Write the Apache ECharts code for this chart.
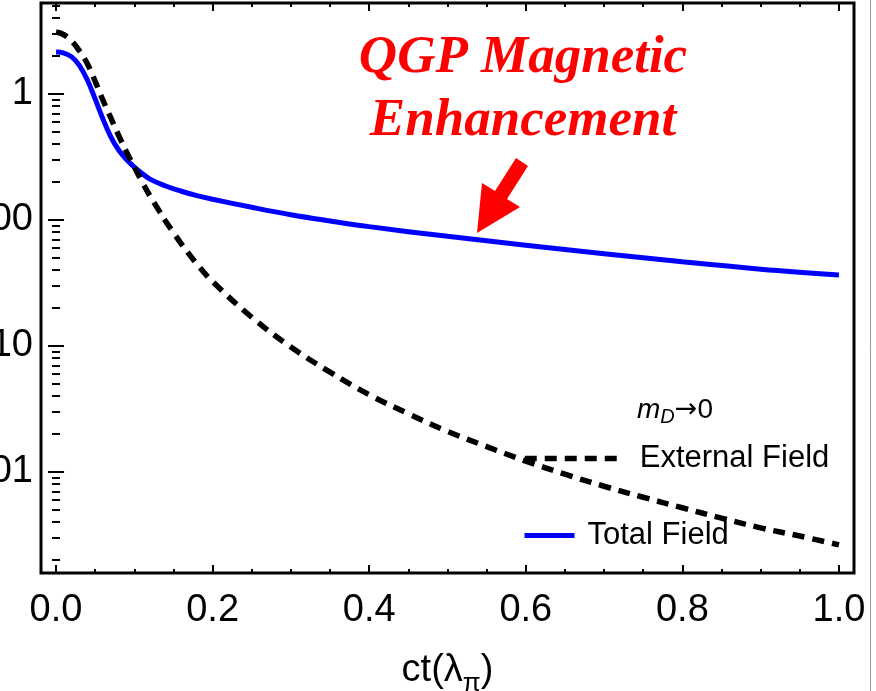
<!DOCTYPE html>
<html>
<head>
<meta charset="utf-8">
<script src="https://cdn.jsdelivr.net/npm/echarts@6/dist/echarts.min.js"></script>
<style>
html,body{margin:0;padding:0;background:#fff;}
#chart{width:876px;height:691px;}
</style>
</head>
<body>
<div id="chart"></div>
<script>
// ---- data ----
const totalX = [0, 0.01, 0.02, 0.03, 0.04, 0.05, 0.06, 0.07, 0.08, 0.09, 0.10, 0.11, 0.12, 0.14, 0.16, 0.18, 0.20, 0.25, 0.30, 0.35, 0.40, 0.50, 0.60, 0.70, 0.80, 0.90, 1.0];
const totalY = [2.15, 2.11, 1.97, 1.68, 1.29, 0.912, 0.631, 0.457, 0.359, 0.302, 0.263, 0.234, 0.211, 0.186, 0.169, 0.156, 0.146, 0.126, 0.110, 0.0982, 0.0885, 0.0741, 0.0631, 0.0540, 0.0465, 0.0407, 0.0366];

const extX = [0, 0.01, 0.02, 0.03, 0.04, 0.05, 0.06, 0.07, 0.08, 0.09, 0.10, 0.11, 0.12, 0.13, 0.14, 0.15, 0.16, 0.18, 0.20, 0.25, 0.30, 0.35, 0.40, 0.45, 0.50, 0.55, 0.60, 0.65, 0.70, 0.75, 0.80, 0.85, 0.90, 0.95, 1.0];
const extY = [3.1, 2.95, 2.63, 2.19, 1.74, 1.26, 0.89, 0.645, 0.468, 0.347, 0.263, 0.200, 0.155, 0.123, 0.0977, 0.0794, 0.0646, 0.0447, 0.0324, 0.0169, 0.0098, 0.0062, 0.0041, 0.0029, 0.0021, 0.00159, 0.00122, 0.00096, 0.00077, 0.00063, 0.00052, 0.00043, 0.00036, 0.00031, 0.000264];

const seriesNames = ['Total Field', 'External Field'];

const xMajorTicks = [0, 0.2, 0.4, 0.6, 0.8, 1.0];
const xTickLabels = ['0.0', '0.2', '0.4', '0.6', '0.8', '1.0'];
const xMinorTicks = [0.05, 0.1, 0.15, 0.25, 0.3, 0.35, 0.45, 0.5, 0.55, 0.65, 0.7, 0.75, 0.85, 0.9, 0.95];

const yMajorTicks = [0.001, 0.01, 0.1, 1];
const yTickLabels = ['0.001', '0.010', '0.100', '1'];
const yMinorTicks = [
  2e-4, 3e-4, 4e-4, 5e-4, 6e-4, 7e-4, 8e-4, 9e-4,
  2e-3, 3e-3, 4e-3, 5e-3, 6e-3, 7e-3, 8e-3, 9e-3,
  0.02, 0.03, 0.04, 0.05, 0.06, 0.07, 0.08, 0.09,
  0.2, 0.3, 0.4, 0.5, 0.6, 0.7, 0.8, 0.9,
  2, 3, 4, 5
];

const xMin = -0.0192, xMax = 1.0192;
const yMin = 1.578e-4, yMax = 5.27;

// ---- chart ----
const FONT = '"Liberation Sans", Arial, sans-serif';
const chart = echarts.init(document.getElementById('chart'), null, {renderer: 'canvas'});

function xLabel(v) {
  const i = xMajorTicks.findIndex(t => Math.abs(t - v) < 1e-9);
  return i >= 0 ? xTickLabels[i] : '';
}
function yLabel(v) {
  const i = yMajorTicks.findIndex(t => Math.abs(Math.log10(t) - Math.log10(v)) < 1e-6);
  return i >= 0 ? yTickLabels[i] : '';
}

const tickLine = {color: '#000', width: 2};

function xAxisDef(pos, ticks, len, withLabel) {
  const a = {
    type: 'value', position: pos, min: xMin, max: xMax,
    axisLine: {show: false},
    splitLine: {show: false},
    axisTick: {show: true, inside: true, length: len, lineStyle: tickLine, customValues: ticks},
    axisLabel: {show: false}
  };
  if (withLabel) {
    a.axisLabel = {show: true, customValues: xMajorTicks, formatter: xLabel,
      fontSize: 38, fontFamily: FONT, color: '#000', margin: 19};
    a.name = '{a|ct(λ}{s|π}{a|)}';
    a.nameLocation = 'middle';
    a.nameGap = 72;
    a.nameTextStyle = {
      rich: {
        a: {fontSize: 38, fontFamily: FONT, color: '#000', lineHeight: 52},
        s: {fontSize: 26, fontFamily: FONT, color: '#000', verticalAlign: 'bottom'}
      }
    };
  }
  return a;
}
function yAxisDef(pos, ticks, len, withLabel) {
  const a = {
    type: 'log', logBase: 10, position: pos, min: yMin, max: yMax,
    axisLine: {show: false},
    splitLine: {show: false},
    minorTick: {show: false},
    axisTick: {show: true, inside: true, length: len, lineStyle: tickLine, customValues: ticks},
    axisLabel: {show: false}
  };
  if (withLabel) {
    a.axisLabel = {show: true, customValues: yMajorTicks, formatter: yLabel,
      fontSize: 38, fontFamily: FONT, color: '#000', margin: 8};
  }
  return a;
}

const option = {
  animation: false,
  backgroundColor: '#fff',
  grid: {left: 41, right: 22, top: 3, bottom: 118, show: true, borderColor: '#000', borderWidth: 3,
    backgroundColor: 'transparent', containLabel: false, outerBoundsMode: 'none'},
  xAxis: [
    xAxisDef('bottom', xMajorTicks, 8, true),
    xAxisDef('bottom', xMinorTicks, 4, false),
    xAxisDef('top', xMajorTicks, 8, false),
    xAxisDef('top', xMinorTicks, 4, false)
  ],
  yAxis: [
    yAxisDef('left', yMajorTicks, 8, true),
    yAxisDef('left', yMinorTicks, 4, false),
    yAxisDef('right', yMajorTicks, 8, false),
    yAxisDef('right', yMinorTicks, 4, false)
  ],
  legend: [
    {
      data: [seriesNames[1]], left: 522, top: 443, padding: 0, z: 1,
      itemWidth: 93, itemHeight: 20,
      itemStyle: {opacity: 0},
      textStyle: {fontSize: 31, fontFamily: FONT, color: '#000', padding: [0, 0, 0, 17]},
      lineStyle: {width: 5.5, type: [12, 8]}
    },
    {
      data: [seriesNames[0]], left: 522, top: 520, padding: 0, z: 1,
      itemWidth: 50, itemHeight: 20,
      itemStyle: {opacity: 0},
      textStyle: {fontSize: 31, fontFamily: FONT, color: '#000', padding: [0, 0, 0, 8]},
      lineStyle: {width: 5}
    }
  ],
  series: [
    {
      name: seriesNames[0], type: 'line', xAxisIndex: 0, yAxisIndex: 0,
      data: totalX.map((x, i) => [x, totalY[i]]),
      showSymbol: false, symbol: 'none', smooth: 0.4,
      lineStyle: {color: '#0000ff', width: 5},
      itemStyle: {color: '#0000ff'}
    },
    {
      name: seriesNames[1], type: 'line', xAxisIndex: 0, yAxisIndex: 0,
      data: extX.map((x, i) => [x, extY[i]]),
      showSymbol: false, symbol: 'none', smooth: 0.4,
      lineStyle: {color: '#000', width: 5.5, type: [12, 8], cap: 'butt'},
      itemStyle: {color: '#000'}
    }
  ],
  graphic: [
    {
      type: 'text', x: 523, y: 27, z: 10,
      style: {
        text: 'QGP Magnetic\nEnhancement',
        font: 'italic bold 53px "Liberation Serif", "Times New Roman", serif',
        fill: '#ff0000', align: 'center', verticalAlign: 'top', lineHeight: 63
      }
    },
    {
      type: 'polygon', z: 10,
      shape: {points: [[477, 233], [482, 183], [495, 191], [516, 158], [528, 166], [507, 199], [520, 207]]},
      style: {fill: '#ff0000'}
    },
    {
      type: 'text', x: 637, y: 393, z: 10,
      style: {
        text: '{m|m}{d|D}{r|→}{a|0}',
        verticalAlign: 'top',
        rich: {
          m: {fontSize: 28, fontFamily: FONT, fontStyle: 'italic', fill: '#000', lineHeight: 34},
          d: {fontSize: 20, fontFamily: FONT, fontStyle: 'italic', fill: '#000', verticalAlign: 'bottom'},
          r: {fontSize: 27, fontFamily: '"DejaVu Sans", sans-serif', fill: '#000', lineHeight: 34},
          a: {fontSize: 28, fontFamily: FONT, fill: '#000', lineHeight: 34}
        }
      }
    },
    {
      type: 'line', z: 10,
      shape: {x1: 870.5, y1: 0, x2: 870.5, y2: 691},
      style: {stroke: '#999', lineWidth: 1}
    }
  ]
};
chart.setOption(option);
</script>
</body>
</html>
